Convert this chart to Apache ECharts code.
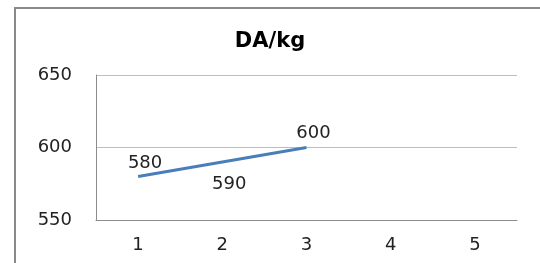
<!DOCTYPE html>
<html>
<head>
<meta charset="utf-8">
<script src="https://cdn.jsdelivr.net/npm/echarts@6/dist/echarts.min.js"></script>
<style>
  html, body { margin: 0; padding: 0; background: #fff; }
  #chart { width: 540px; height: 263px; }
</style>
</head>
<body>
<div id="chart"></div>
<script>
const categories = ['1', '2', '3', '4', '5']
const values = [580, 590, 600, null, null]
const labelPos = ['top', 'bottom', 'top', 'top', 'top']
const labelDist = [4, 13, 5, 5, 5]
const yTicks = { min: 550, max: 650, interval: 50 }

const chart = echarts.init(document.getElementById('chart'))
const font = 'DejaVu Sans'

chart.setOption({
  animation: false,
  title: {
    text: 'DA/kg',
    left: 'center',
    top: 26,
    textStyle: { fontFamily: font, fontSize: 21, fontWeight: 'bold', color: '#000' }
  },
  graphic: [{
    type: 'polyline',
    shape: { points: [[15, 263], [15, 8], [540, 8]] },
    style: { stroke: '#8a8a8a', lineWidth: 2, fill: null }
  }],
  grid: { left: 96, top: 75, right: 23, bottom: 43 },
  xAxis: {
    type: 'category',
    data: categories,
    boundaryGap: true,
    axisTick: { show: false },
    axisLine: { lineStyle: { color: '#8c8c8c', width: 1 } },
    axisLabel: { color: '#222', fontFamily: font, fontSize: 18, margin: 16 }
  },
  yAxis: {
    type: 'value',
    min: yTicks.min,
    max: yTicks.max,
    interval: yTicks.interval,
    axisLine: { show: true, lineStyle: { color: '#8c8c8c', width: 1 } },
    axisTick: { show: false },
    splitLine: { lineStyle: { color: '#bdbdbd', width: 1 } },
    axisLabel: { color: '#222', fontFamily: font, fontSize: 18, margin: 24 }
  },
  series: [{
    type: 'line',
    data: values.map((v, i) => ({
      value: v,
      label: { position: labelPos[i], distance: labelDist[i] }
    })),
    showSymbol: true,
    symbol: 'circle',
    symbolSize: 0,
    lineStyle: { color: '#4a7ebb', width: 3 },
    itemStyle: { color: '#4a7ebb' },
    label: {
      show: true,
      color: '#222',
      fontFamily: font,
      fontSize: 18,
      offset: [7, 0]
    }
  }]
})
</script>
</body>
</html>
